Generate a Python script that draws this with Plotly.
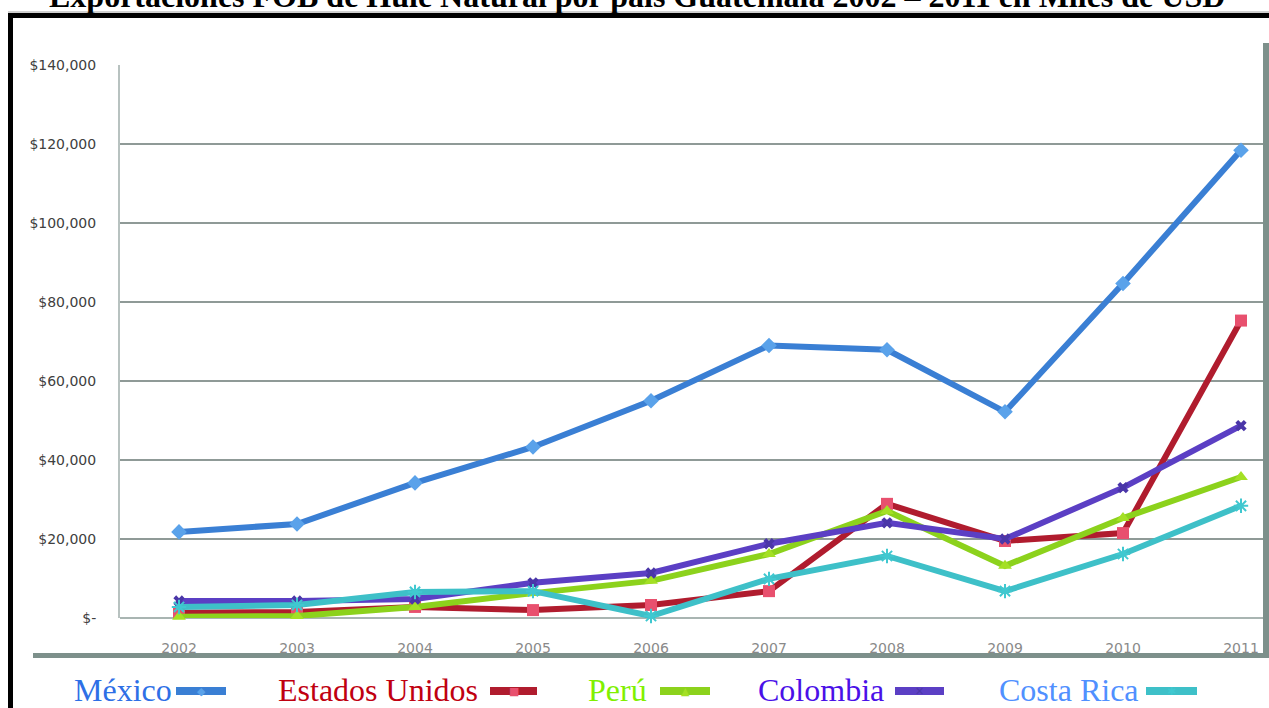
import plotly.graph_objects as go

years = [2002, 2003, 2004, 2005, 2006, 2007, 2008, 2009, 2010, 2011]
year_labels = [str(y) for y in years]

mexico = [21800, 23800, 34200, 43300, 55000, 69000, 67900, 52200, 84700, 118400]
estados_unidos = [1300, 1500, 2800, 2000, 3300, 6800, 28900, 19500, 21500, 75300]
peru = [300, 500, 2800, 6300, 9400, 16200, 27100, 13200, 25300, 35700]
colombia = [4300, 4300, 4800, 8900, 11400, 18800, 24100, 20000, 33000, 48700]
costa_rica = [2800, 3300, 6600, 6800, 500, 9900, 15700, 6800, 16200, 28400]

series_names = ["México", "Estados Unidos", "Perú", "Colombia", "Costa Rica"]
series_values = [mexico, estados_unidos, peru, colombia, costa_rica]

y_tickvals = [0, 20000, 40000, 60000, 80000, 100000, 120000, 140000]
y_ticktext = ["$-", "$20,000", "$40,000", "$60,000", "$80,000", "$100,000", "$120,000", "$140,000"]

title_text = "Exportaciones FOB de Hule Natural por país Guatemala 2002 \u2013 2011 en Miles de USD"

# styles
line_colors = ["#3a7fd4", "#b01c2e", "#8cd21c", "#5b3fc4", "#3ec0c8"]
marker_colors = ["#5aa2ea", "#e8506e", "#a4e024", "#4a36a8", "#40c8d0"]
marker_symbols = ["diamond", "square", "triangle-up", "x", "asterisk-open"]
legend_text_colors = ["#2e6fe6", "#c00010", "#80f000", "#4a10e8", "#5090ff"]
legend_glyphs = ["\u25c6", "\u25a0", "\u25b2", "\u2715", "\u2731"]

W, H = 1269, 708
L, R, T, B = 120, 6, 65, 90
PW = W - L - R
PH = H - T - B


def px(x):
    return (x - L) / PW


def py(y):
    return (H - B - y) / PH


fig = go.Figure()
for name, vals, lc, mc, ms in zip(series_names, series_values, line_colors, marker_colors, marker_symbols):
    marker = dict(symbol=ms, size=12, color=mc)
    if ms == "asterisk-open":
        marker = dict(symbol=ms, size=12, color=mc, line=dict(color=mc, width=2))
    elif ms == "x":
        marker = dict(symbol=ms, size=10, color=mc, line=dict(width=0))
    fig.add_trace(go.Scatter(
        x=years, y=vals, name=name, mode="lines+markers",
        line=dict(color=lc, width=6),
        marker=marker, showlegend=False, cliponaxis=False,
    ))

shapes = []
# outer frame (scanned border)
shapes.append(dict(type="line", xref="paper", yref="paper", x0=px(8), x1=px(W), y0=py(12), y1=py(12),
                   line=dict(color="#a0a0a0", width=1), layer="above"))
shapes.append(dict(type="rect", xref="paper", yref="paper", x0=px(8), x1=px(W + 2), y0=py(13), y1=py(18),
                   fillcolor="#000000", line=dict(width=0), layer="above"))
shapes.append(dict(type="rect", xref="paper", yref="paper", x0=px(8), x1=px(13), y0=py(13), y1=py(H + 2),
                   fillcolor="#000000", line=dict(width=0), layer="above"))
# grey chart-frame bars
shapes.append(dict(type="rect", xref="paper", yref="paper", x0=px(1263), x1=px(W + 2), y0=py(43), y1=py(658),
                   fillcolor="#7d908b", line=dict(width=0), layer="above"))
shapes.append(dict(type="rect", xref="paper", yref="paper", x0=px(33), x1=px(W + 2), y0=py(653), y1=py(658),
                   fillcolor="#7d908b", line=dict(width=0), layer="above"))

annotations = [dict(
    text="<b>" + title_text + "</b>", xref="paper", yref="paper",
    x=px(637), y=py(-4), xanchor="center", yanchor="middle", showarrow=False,
    font=dict(family="Liberation Serif", size=32, color="#000000"),
)]

# manual legend: text followed by line sample
legend_text_x = [72, 276, 586, 756, 997]
legend_sample_x = [(176, 226), (490, 537), (660, 710), (895, 944), (1146, 1197)]
for name, tc, lc, mc, g, tx, (s0, s1) in zip(series_names, legend_text_colors, line_colors, marker_colors,
                                             legend_glyphs, legend_text_x, legend_sample_x):
    annotations.append(dict(
        text=name, xref="paper", yref="paper", x=px(tx), y=py(690), xanchor="left", yanchor="middle",
        showarrow=False, font=dict(family="Liberation Serif", size=32, color=tc),
    ))
    shapes.append(dict(type="line", xref="paper", yref="paper", x0=px(s0), x1=px(s1), y0=py(691), y1=py(691),
                       line=dict(color=lc, width=8), layer="above"))
    annotations.append(dict(
        text=g, xref="paper", yref="paper", x=px((s0 + s1) / 2), y=py(691), xanchor="center",
        yanchor="middle", showarrow=False, font=dict(family="DejaVu Sans", size=11, color=mc),
    ))

fig.update_layout(
    width=W, height=H, autosize=False,
    margin=dict(l=L, r=R, t=T, b=B),
    paper_bgcolor="#ffffff", plot_bgcolor="#ffffff",
    showlegend=False,
    shapes=shapes, annotations=annotations,
    xaxis=dict(
        range=[years[0] - 0.5, years[0] - 0.5 + PW / 118.0],
        tickmode="array", tickvals=years, ticktext=year_labels,
        showgrid=False, zeroline=False, showline=False,
        ticks="outside", ticklen=17, tickcolor="rgba(0,0,0,0)",
        tickfont=dict(family="DejaVu Sans", size=14, color="#8a8a8a"),
    ),
    yaxis=dict(
        range=[0, 140000], tickmode="array", tickvals=y_tickvals, ticktext=y_ticktext,
        showgrid=True, gridcolor="#8f9a97", gridwidth=2,
        zeroline=True, zerolinecolor="#a9b5b2", zerolinewidth=2,
        showline=True, linecolor="#b8c2c0", linewidth=2,
        ticks="outside", ticklen=19, tickcolor="rgba(0,0,0,0)",
        tickfont=dict(family="DejaVu Sans", size=14, color="#404040"),
    ),
)

fig.write_html("out.html")
